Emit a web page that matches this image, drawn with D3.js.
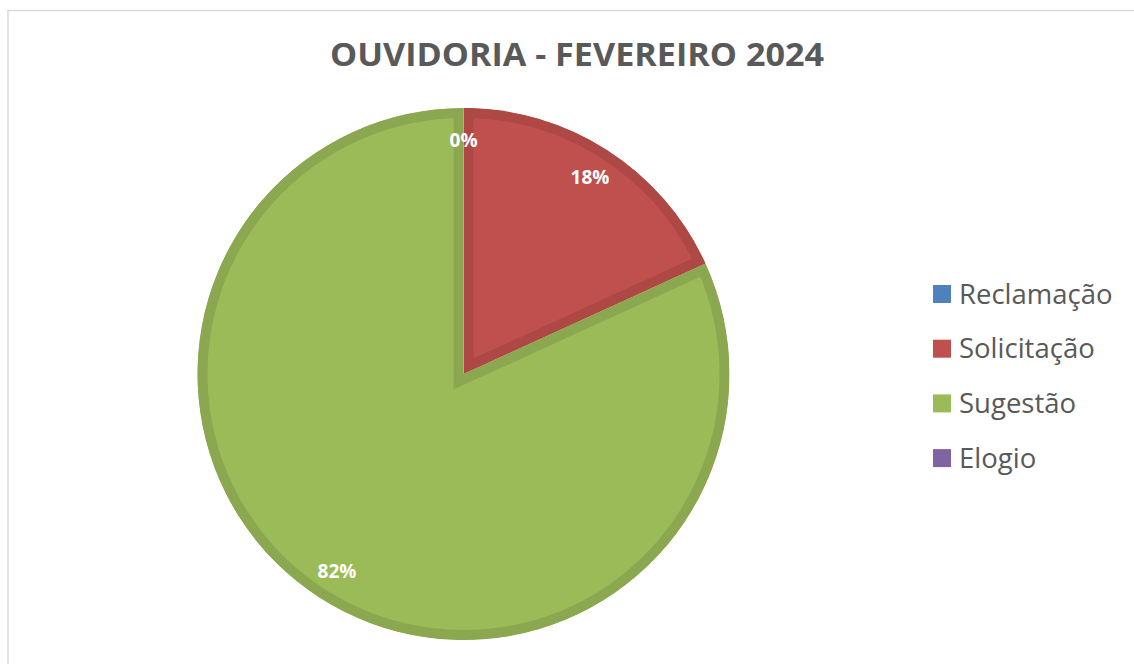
<!DOCTYPE html>
<html>
<head>
<meta charset="utf-8">
<script src="https://cdn.jsdelivr.net/npm/d3@7"></script>
<style>
  body { margin: 0; background: #fff; }
  svg { display: block; }
</style>
</head>
<body>
<script>
// data
const categories = ['Reclamação', 'Solicitação', 'Sugestão', 'Elogio']
const values = [0, 2, 9, 0]
const colors = ['#4F81BD', '#C0504D', '#9BBB59', '#8064A2']
const title = 'OUVIDORIA - FEVEREIRO 2024'

const width = 1134
const height = 664
const cx = 463.5
const cy = 374
const radius = 266

const svg = d3.select('body')
  .append('svg')
  .attr('width', width)
  .attr('height', height)

// chart frame
svg.append('rect')
  .attr('x', 8)
  .attr('y', 10.5)
  .attr('width', width + 10)
  .attr('height', height + 10)
  .attr('fill', 'none')
  .attr('stroke', '#d9d9d9')
  .attr('stroke-width', 1.5)

// title
svg.append('text')
  .attr('x', 577)
  .attr('y', 66)
  .attr('text-anchor', 'middle')
  .attr('textLength', 494)
  .attr('lengthAdjust', 'spacingAndGlyphs')
  .style('font-family', '"Open Sans", sans-serif')
  .style('font-weight', 700)
  .style('font-size', '32px')
  .style('fill', '#595959')
  .text(title)

const data = categories.map((c, i) => ({ name: c, value: values[i], color: colors[i] }))

const pie = d3.pie()
  .sort(null)
  .value(d => d.value)

const arcs = pie(data)

const arc = d3.arc()
  .innerRadius(0)
  .outerRadius(radius)

const main = svg.append('g')
  .attr('transform', `translate(${cx}, ${cy})`)

const defs = svg.append('defs')

// slices with an inner, darker border (stroke clipped to the slice)
arcs.forEach((a, i) => {
  if (a.endAngle - a.startAngle <= 0) return
  defs.append('clipPath')
    .attr('id', 'clip' + i)
    .append('path')
    .attr('d', arc(a))
  main.append('path')
    .attr('d', arc(a))
    .attr('fill', a.data.color)
    .attr('stroke', d3.color(a.data.color).darker(0.3))
    .attr('stroke-width', 20)
    .attr('stroke-linejoin', 'miter')
    .attr('clip-path', `url(#clip${i})`)
})

// percent labels
const total = d3.sum(values)
const labelArc = d3.arc()
  .innerRadius(radius * 0.88)
  .outerRadius(radius * 0.88)

let zeroShown = false
arcs.forEach((a) => {
  const pct = Math.round(a.data.value / total * 100) + '%'
  const [x, y] = labelArc.centroid(a)
  if (a.value === 0) {
    if (zeroShown) return
    zeroShown = true
  }
  main.append('text')
    .attr('x', x)
    .attr('y', y)
    .attr('text-anchor', 'middle')
    .attr('dy', '0.35em')
    .style('font-family', '"Open Sans", sans-serif')
    .style('font-weight', 700)
    .style('font-size', '19px')
    .style('fill', '#fff')
    .text(pct)
})

// legend
const legend = svg.append('g')
  .attr('transform', 'translate(933, 294)')

const rows = legend.selectAll('g')
  .data(data)
  .enter()
  .append('g')
  .attr('transform', (d, i) => `translate(0, ${i * 54.7})`)

rows.append('rect')
  .attr('x', 0)
  .attr('y', -9)
  .attr('width', 18)
  .attr('height', 18)
  .attr('fill', d => d.color)

rows.append('text')
  .attr('x', 26)
  .attr('y', 0)
  .attr('dy', '0.35em')
  .style('font-family', '"Open Sans", sans-serif')
  .style('font-size', '27.5px')
  .style('fill', '#595959')
  .text(d => d.name)
</script>
</body>
</html>
